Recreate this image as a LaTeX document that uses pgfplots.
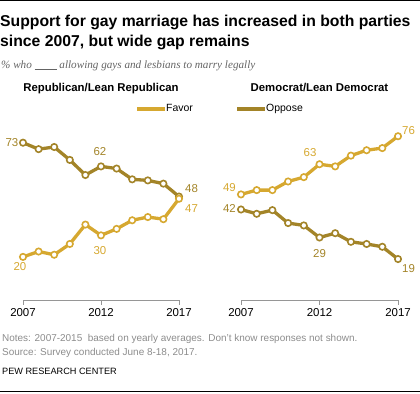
\documentclass[border=0pt]{standalone}
\usepackage{fontspec}
\setmainfont{Liberation Sans}
\newfontfamily\serifit{Liberation Serif}
\usepackage{pgfplots}
\pgfplotsset{compat=1.18}
\definecolor{favor}{RGB}{214,168,48}
\definecolor{oppose}{RGB}{163,132,40}
\definecolor{notegray}{RGB}{140,140,140}
\definecolor{subgray}{RGB}{100,100,100}
\definecolor{axgray}{RGB}{150,150,150}
\tikzset{lab/.style={font=\fontsize{11.5}{12}\selectfont, inner sep=0}}
\pgfplotsset{
  panel/.style={
    scale only axis, height=172.4bp, xmin=2007, xmax=2017, ymin=0, ymax=80,
    axis x line=bottom, axis y line=none, axis line style={-, axgray, line width=0.8bp},
    xtick={2007,2012,2017}, xtick align=outside, major tick length=5bp,
    tick style={axgray, line width=0.8bp},
    xticklabel style={font=\fontsize{11.5}{12}\selectfont, text=black},
    /pgf/number format/1000 sep={}, /pgf/number format/assume math mode=true,
    clip=false,
  },
  fav/.style={color=favor, line width=3.3bp, mark=*, mark size=3.2bp, mark options={fill=white, draw=favor, line width=1.6bp}},
  opp/.style={color=oppose, line width=3.3bp, mark=*, mark size=3.2bp, mark options={fill=white, draw=oppose, line width=1.6bp}},
}
\begin{document}
\begin{tikzpicture}
\useasboundingbox (0bp,0bp) rectangle (420bp,394bp);
\draw[black, line width=1bp] (0bp,393.5bp) -- (420bp,393.5bp);
\draw[black, line width=1bp] (0bp,2.3bp) -- (420bp,2.3bp);
\node[anchor=base west, inner sep=0, font=\bfseries\fontsize{15.8}{18}\selectfont] at (0bp,367.3bp) {Support for gay marriage has increased in both parties};
\node[anchor=base west, inner sep=0, font=\bfseries\fontsize{15.8}{18}\selectfont] at (0bp,347.3bp) {since 2007, but wide gap remains};
\node[anchor=base west, inner sep=0, text=subgray, font=\serifit\itshape\fontsize{11.2}{13}\selectfont] at (1bp,325bp) {\% who \rule[-0.5bp]{22bp}{0.6bp} allowing gays and lesbians to marry legally};
\node[anchor=base, inner sep=0, font=\bfseries\fontsize{11.4}{13}\selectfont] at (101bp,302bp) {Republican/Lean Republican};
\node[anchor=base, inner sep=0, font=\bfseries\fontsize{11.4}{13}\selectfont] at (319.5bp,302bp) {Democrat/Lean Democrat};
% legend
\draw[favor, line width=3.5bp] (137bp,285bp) -- (165bp,285bp);
\node[anchor=base west, inner sep=0, font=\fontsize{10.5}{12}\selectfont] at (166bp,282bp) {Favor};
\draw[oppose, line width=3.5bp] (237bp,285bp) -- (265bp,285bp);
\node[anchor=base west, inner sep=0, font=\fontsize{10.5}{12}\selectfont] at (266bp,282bp) {Oppose};

\begin{axis}[panel, at={(23bp,94bp)}, anchor=south west, width=156bp]
\addplot[opp] coordinates {(2007,73) (2008,70) (2009,71) (2010,65) (2011,58) (2012,62) (2013,61) (2014,56) (2015,55.5) (2016,54) (2017,48)};
\addplot[fav] coordinates {(2007,20) (2008,22.5) (2009,21) (2010,26) (2011,35) (2012,30) (2013,33) (2014,37) (2015,38.5) (2016,37.5) (2017,47)};
\node[lab, text=oppose, anchor=east, xshift=-4.5bp] at (axis cs:2007,73) {73};
\node[lab, text=oppose, anchor=base, xshift=-1bp, yshift=11bp] at (axis cs:2012,62) {62};
\node[lab, text=oppose, anchor=base west, xshift=6bp, yshift=4.5bp] at (axis cs:2017,48) {48};
\node[lab, text=favor, anchor=base west, xshift=6bp, yshift=-14bp] at (axis cs:2017,47) {47};
\node[lab, text=favor, anchor=base, xshift=-1bp, yshift=-19.6bp] at (axis cs:2012,30) {30};
\node[lab, text=favor, anchor=base, xshift=-3bp, yshift=-14bp] at (axis cs:2007,20) {20};
\end{axis}

\begin{axis}[panel, at={(241bp,94bp)}, anchor=south west, width=157bp]
\addplot[fav] coordinates {(2007,49) (2008,51) (2009,51) (2010,55) (2011,57) (2012,63) (2013,62) (2014,67) (2015,69.5) (2016,70.5) (2017,76)};
\addplot[opp] coordinates {(2007,42) (2008,40) (2009,41.7) (2010,35.7) (2011,34.6) (2012,29) (2013,31) (2014,27) (2015,26) (2016,24.7) (2017,19)};
\node[lab, text=favor, anchor=base east, xshift=-5bp, yshift=2.7bp] at (axis cs:2007,49) {49};
\node[lab, text=oppose, anchor=base east, xshift=-5bp, yshift=-3.5bp] at (axis cs:2007,42) {42};
\node[lab, text=favor, anchor=base, xshift=-9.5bp, yshift=7.5bp] at (axis cs:2012,63) {63};
\node[lab, text=oppose, anchor=base, yshift=-19.5bp] at (axis cs:2012,29) {29};
\node[lab, text=favor, anchor=base west, xshift=4bp, yshift=2bp] at (axis cs:2017,76) {76};
\node[lab, text=oppose, anchor=base west, xshift=4bp, yshift=-13.7bp] at (axis cs:2017,19) {19};
\end{axis}

\node[anchor=base west, inner sep=0, text=notegray, font=\fontsize{10}{12}\selectfont] at (2bp,52bp) {Notes: 2007-2015\ \ based on yearly averages. Don't know responses not shown.};
\node[anchor=base west, inner sep=0, text=notegray, font=\fontsize{10}{12}\selectfont] at (2bp,39bp) {Source: Survey conducted June 8-18, 2017.};
\node[anchor=base west, inner sep=0, text=black, font=\fontsize{9.2}{11}\selectfont] at (2bp,20bp) {PEW RESEARCH CENTER};
\end{tikzpicture}
\end{document}
